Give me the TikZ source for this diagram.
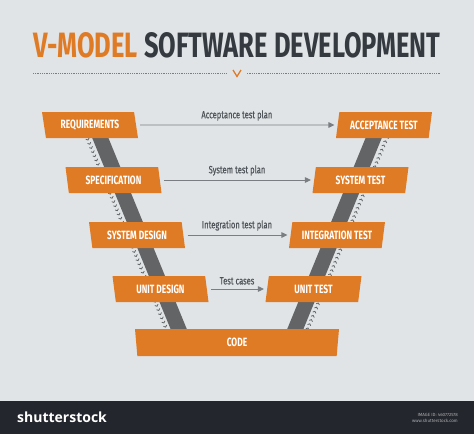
\documentclass[tikz,border=0pt]{standalone}
\usepackage{fontspec}
\setmainfont{Fira Sans}
\newfontfamily\narrowfont[FakeStretch=0.7]{Fira Sans}
\newfontfamily\labelfont[FakeStretch=0.72,FakeBold=0.5]{Fira Sans}
\newfontfamily\brandfont{Open Sans}
\usetikzlibrary{shapes.geometric,arrows.meta,decorations.markings}
\definecolor{bggray}{RGB}{225,228,230}
\definecolor{vorange}{RGB}{224,123,37}
\definecolor{titledark}{RGB}{52,58,64}
\definecolor{railgray}{RGB}{98,100,102}
\definecolor{arrowgray}{RGB}{122,126,130}
\definecolor{labelgray}{RGB}{78,84,90}
\definecolor{footdark}{RGB}{36,38,45}
\definecolor{footgray}{RGB}{170,172,176}

\begin{document}
\begin{tikzpicture}[x=1pt,y=-1pt,
  stage/.style={trapezium, trapezium stretches body, fill=vorange, text=white,
    font=\narrowfont\bfseries\fontsize{12}{12}\selectfont,
    minimum height=26pt, minimum width=96pt, inner sep=0pt},
  leftstage/.style={stage, trapezium left angle=111, trapezium right angle=69},
  rightstage/.style={stage, trapezium left angle=69, trapezium right angle=111},
  rail/.style={railgray, line width=15pt},
  flow/.style={postaction={decorate}, decoration={markings,
    mark=between positions 0.02 and 0.98 step 4.5pt with
    {\arrow[railgray]{Straight Barb[length=1.5pt,width=3.5pt,line width=0.8pt]}}}},
  rule/.style={arrowgray, line width=0.6pt, dash pattern=on 0.6pt off 1.2pt},
  plan/.style={arrowgray, line width=0.9pt, shorten <=4pt, shorten >=3pt,
    -{Triangle[length=6pt,width=5.5pt]}},
  planlabel/.style={above=3.5pt, inner sep=0.5pt, text=labelgray,
    font=\labelfont\fontsize{10.5}{11}\selectfont}]
  \fill[bggray] (0,0) rectangle (474,401);
  \fill[footdark] (0,401) rectangle (474,434);
  \useasboundingbox (0,0) rectangle (474,434);

  \node[inner sep=0pt, anchor=north west] (title) at (33,32)
    {\resizebox{407pt}{25pt}{\narrowfont\bfseries\textcolor{vorange}{V-MODEL}
     \textcolor{titledark}{SOFTWARE DEVELOPMENT}}};
  \coordinate (ruleL) at (33,73);
  \coordinate (ruleR) at (440,73);
  \coordinate (vtip) at (237,76.5);
  \draw[rule] (ruleL) -- ++(194,0);
  \draw[rule] (ruleR) -- ++(-193,0);
  \draw[vorange, line width=1.3pt] (233,70) -- (vtip) -- (241,70);

  % rails behind the stages
  \coordinate (railLtop) at (95,125);
  \coordinate (railLbot) at (184,342);
  \coordinate (railRtop) at (379,125);
  \coordinate (railRbot) at (290,342);
  \draw[rail] (railLtop) -- (railLbot);
  \draw[rail] (railRtop) -- (railRbot);
  \path[flow] (83,128) -- (171,340);
  \path[flow] (303,340) -- (391,128);

  \node[leftstage] (req) at (90,125) {REQUIREMENTS};
  \node[leftstage] (spec) at (113.5,180) {SPECIFICATION};
  \node[leftstage] (sysdes) at (137,235) {SYSTEM DESIGN};
  \node[leftstage] (unitdes) at (160.5,289) {UNIT DESIGN};
  \node[rightstage] (acc) at (384,125) {ACCEPTANCE TEST};
  \node[rightstage] (systest) at (360.5,180) {SYSTEM TEST};
  \node[rightstage] (inttest) at (337,235) {INTEGRATION TEST};
  \node[rightstage] (unittest) at (313.5,289) {UNIT TEST};
  \node[stage, trapezium left angle=105, trapezium right angle=105,
    minimum width=204pt, minimum height=27pt] (code) at (237,342.5) {CODE};

  \draw[plan] (req.east) -- (acc.west) node[planlabel, midway] {Acceptance test plan};
  \draw[plan] (spec.east) -- (systest.west) node[planlabel, midway] {System test plan};
  \draw[plan] (sysdes.east) -- (inttest.west) node[planlabel, midway] {Integration test plan};
  \draw[plan] (unitdes.east) -- (unittest.west) node[planlabel, midway] {Test cases};

  \node[anchor=west, inner sep=0pt, text=white,
    font=\brandfont\bfseries\fontsize{14}{14}\selectfont] (brand) at (17,417) {shutterstock};
  \node[anchor=east, inner sep=0pt, align=right, text=footgray,
    font=\fontsize{4.5}{5.5}\selectfont] (imageid) at (458,418)
    {IMAGE ID: 460772578\\www.shutterstock.com};
\end{tikzpicture}
\end{document}
